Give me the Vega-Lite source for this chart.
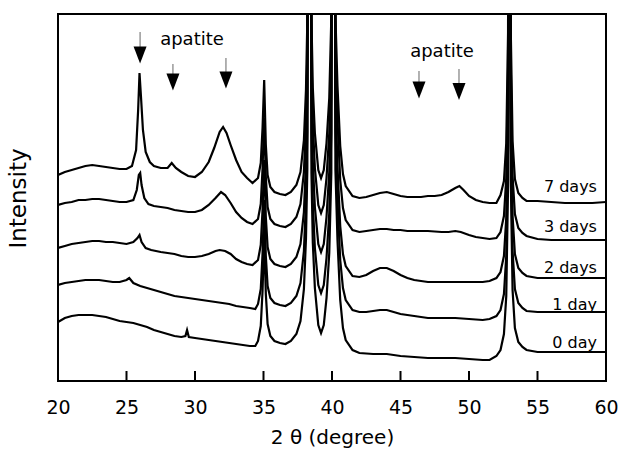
{
  "$schema": "https://vega.github.io/schema/vega-lite/v6.json",
  "width": 548,
  "height": 367,
  "autosize": {"type": "none"},
  "padding": {"left": 58, "top": 14, "right": 15, "bottom": 69},
  "background": "white",
  "config": {
    "view": {"stroke": "black", "strokeWidth": 2},
    "font": "DejaVu Sans"
  },
  "encoding": {
    "x": {
      "field": "x", "type": "quantitative",
      "scale": {"domain": [20, 60], "nice": false, "zero": false},
      "axis": {
        "values": [20, 25, 30, 35, 40, 45, 50, 55, 60],
        "domain": false, "grid": false, "ticks": false,
        "labelFont": "DejaVu Sans", "labelFontSize": 19, "labelColor": "black",
        "labelBaseline": "alphabetic", "labelPadding": 32, "labelFlush": false,
        "title": "2 θ  (degree)", "titleFont": "DejaVu Sans", "titleFontSize": 20,
        "titleFontWeight": "normal", "titleColor": "black",
        "titleBaseline": "alphabetic", "titleY": 62
      }
    },
    "y": {
      "field": "v", "type": "quantitative",
      "scale": {"domain": [0, 367], "nice": false, "zero": false},
      "axis": {
        "domain": false, "grid": false, "ticks": false, "labels": false,
        "title": "Intensity", "titleFont": "DejaVu Sans", "titleFontSize": 23,
        "titleFontWeight": "normal", "titleColor": "black",
        "titleX": -40, "titleY": 184, "titleAlign": "center", "titleBaseline": "middle", "titleAngle": -90
      }
    }
  },
  "layer": [
    {
      "data": {"values": [
        {"s":"7","x":20,"v":206},{"s":"7","x":20.5,"v":209},{"s":"7","x":21,"v":211},{"s":"7","x":21.5,"v":213},{"s":"7","x":22,"v":215},{"s":"7","x":22.5,"v":216},{"s":"7","x":23,"v":215},{"s":"7","x":23.5,"v":214},{"s":"7","x":24,"v":213},{"s":"7","x":24.5,"v":212},{"s":"7","x":25,"v":212},{"s":"7","x":25.4,"v":215},{"s":"7","x":25.7,"v":231},{"s":"7","x":25.85,"v":271},{"s":"7","x":25.95,"v":308},{"s":"7","x":26.05,"v":286},{"s":"7","x":26.2,"v":251},{"s":"7","x":26.4,"v":229},{"s":"7","x":26.7,"v":219},{"s":"7","x":27,"v":215},{"s":"7","x":27.5,"v":213},{"s":"7","x":28,"v":213},{"s":"7","x":28.3,"v":218},{"s":"7","x":28.6,"v":213},{"s":"7","x":29,"v":209},{"s":"7","x":29.5,"v":205},{"s":"7","x":30,"v":204},{"s":"7","x":30.5,"v":209},{"s":"7","x":31,"v":219},{"s":"7","x":31.4,"v":233},{"s":"7","x":31.8,"v":249},{"s":"7","x":32.05,"v":254},{"s":"7","x":32.3,"v":248},{"s":"7","x":32.6,"v":236},{"s":"7","x":33,"v":221},{"s":"7","x":33.4,"v":209},{"s":"7","x":33.8,"v":203},{"s":"7","x":34.2,"v":198},{"s":"7","x":34.6,"v":203},{"s":"7","x":34.8,"v":218},{"s":"7","x":34.93,"v":253},{"s":"7","x":35.05,"v":301},{"s":"7","x":35.17,"v":236},{"s":"7","x":35.3,"v":206},{"s":"7","x":35.5,"v":194},{"s":"7","x":35.8,"v":189},{"s":"7","x":36.2,"v":187},{"s":"7","x":36.6,"v":186},{"s":"7","x":37,"v":189},{"s":"7","x":37.4,"v":196},{"s":"7","x":37.7,"v":209},{"s":"7","x":37.95,"v":241},{"s":"7","x":38.1,"v":291},{"s":"7","x":38.2,"v":361},{"s":"7","x":38.35,"v":1200},{"s":"7","x":38.5,"v":363},{"s":"7","x":38.6,"v":293},{"s":"7","x":38.75,"v":248},{"s":"7","x":39,"v":211},{"s":"7","x":39.2,"v":203},{"s":"7","x":39.4,"v":211},{"s":"7","x":39.6,"v":238},{"s":"7","x":39.8,"v":283},{"s":"7","x":39.95,"v":363},{"s":"7","x":40.1,"v":1200},{"s":"7","x":40.25,"v":365},{"s":"7","x":40.4,"v":295},{"s":"7","x":40.6,"v":235},{"s":"7","x":40.8,"v":207},{"s":"7","x":41,"v":195},{"s":"7","x":41.5,"v":185},{"s":"7","x":42,"v":183},{"s":"7","x":42.5,"v":184},{"s":"7","x":43,"v":186},{"s":"7","x":43.5,"v":188},{"s":"7","x":44,"v":189},{"s":"7","x":44.5,"v":187},{"s":"7","x":45,"v":185},{"s":"7","x":45.5,"v":184},{"s":"7","x":46,"v":184},{"s":"7","x":46.5,"v":184},{"s":"7","x":47,"v":185},{"s":"7","x":47.5,"v":185},{"s":"7","x":48,"v":186},{"s":"7","x":48.5,"v":189},{"s":"7","x":49,"v":193},{"s":"7","x":49.3,"v":195},{"s":"7","x":49.6,"v":191},{"s":"7","x":50,"v":185},{"s":"7","x":50.5,"v":181},{"s":"7","x":51,"v":179},{"s":"7","x":51.5,"v":178},{"s":"7","x":52,"v":178},{"s":"7","x":52.3,"v":186},{"s":"7","x":52.55,"v":200},{"s":"7","x":52.72,"v":238},{"s":"7","x":52.85,"v":348},{"s":"7","x":52.95,"v":1200},{"s":"7","x":53.05,"v":350},{"s":"7","x":53.18,"v":240},{"s":"7","x":53.35,"v":202},{"s":"7","x":53.6,"v":188},{"s":"7","x":53.9,"v":183},{"s":"7","x":54.2,"v":180},{"s":"7","x":55,"v":180},{"s":"7","x":56,"v":179},{"s":"7","x":57,"v":178},{"s":"7","x":58,"v":178},{"s":"7","x":59,"v":178},{"s":"7","x":60,"v":179},

        {"s":"3","x":20,"v":176},{"s":"3","x":20.5,"v":178},{"s":"3","x":21,"v":179},{"s":"3","x":21.5,"v":181},{"s":"3","x":22,"v":181},{"s":"3","x":22.5,"v":182},{"s":"3","x":23,"v":182},{"s":"3","x":23.5,"v":181},{"s":"3","x":24,"v":180},{"s":"3","x":24.5,"v":179},{"s":"3","x":25,"v":179},{"s":"3","x":25.5,"v":181},{"s":"3","x":25.75,"v":191},{"s":"3","x":25.9,"v":206},{"s":"3","x":26,"v":208},{"s":"3","x":26.1,"v":196},{"s":"3","x":26.3,"v":183},{"s":"3","x":26.6,"v":177},{"s":"3","x":27,"v":175},{"s":"3","x":27.5,"v":174},{"s":"3","x":28,"v":173},{"s":"3","x":28.5,"v":171},{"s":"3","x":29,"v":170},{"s":"3","x":29.5,"v":169},{"s":"3","x":30,"v":169},{"s":"3","x":30.5,"v":171},{"s":"3","x":31,"v":176},{"s":"3","x":31.5,"v":183},{"s":"3","x":31.9,"v":189},{"s":"3","x":32.2,"v":186},{"s":"3","x":32.6,"v":178},{"s":"3","x":33,"v":169},{"s":"3","x":33.4,"v":163},{"s":"3","x":33.8,"v":159},{"s":"3","x":34.2,"v":157},{"s":"3","x":34.6,"v":162},{"s":"3","x":34.8,"v":177},{"s":"3","x":34.93,"v":212},{"s":"3","x":35.05,"v":263},{"s":"3","x":35.17,"v":204},{"s":"3","x":35.3,"v":174},{"s":"3","x":35.5,"v":162},{"s":"3","x":35.8,"v":157},{"s":"3","x":36.2,"v":155},{"s":"3","x":36.6,"v":154},{"s":"3","x":37,"v":157},{"s":"3","x":37.4,"v":164},{"s":"3","x":37.7,"v":177},{"s":"3","x":37.95,"v":209},{"s":"3","x":38.1,"v":259},{"s":"3","x":38.2,"v":329},{"s":"3","x":38.35,"v":1200},{"s":"3","x":38.5,"v":328},{"s":"3","x":38.6,"v":258},{"s":"3","x":38.75,"v":213},{"s":"3","x":39,"v":176},{"s":"3","x":39.2,"v":168},{"s":"3","x":39.4,"v":176},{"s":"3","x":39.6,"v":203},{"s":"3","x":39.8,"v":248},{"s":"3","x":39.95,"v":328},{"s":"3","x":40.1,"v":1200},{"s":"3","x":40.25,"v":331},{"s":"3","x":40.4,"v":261},{"s":"3","x":40.6,"v":201},{"s":"3","x":40.8,"v":173},{"s":"3","x":41,"v":161},{"s":"3","x":41.5,"v":151},{"s":"3","x":42,"v":149},{"s":"3","x":42.5,"v":150},{"s":"3","x":43,"v":151},{"s":"3","x":43.5,"v":152},{"s":"3","x":44,"v":152},{"s":"3","x":44.5,"v":151},{"s":"3","x":45,"v":151},{"s":"3","x":45.5,"v":150},{"s":"3","x":46,"v":150},{"s":"3","x":47,"v":150},{"s":"3","x":48,"v":149},{"s":"3","x":48.5,"v":149},{"s":"3","x":49,"v":150},{"s":"3","x":49.4,"v":149},{"s":"3","x":50,"v":146},{"s":"3","x":50.5,"v":144},{"s":"3","x":51,"v":143},{"s":"3","x":51.5,"v":142},{"s":"3","x":52,"v":143},{"s":"3","x":52.3,"v":149},{"s":"3","x":52.55,"v":165},{"s":"3","x":52.72,"v":203},{"s":"3","x":52.85,"v":313},{"s":"3","x":52.95,"v":1200},{"s":"3","x":53.05,"v":315},{"s":"3","x":53.18,"v":205},{"s":"3","x":53.35,"v":167},{"s":"3","x":53.6,"v":153},{"s":"3","x":53.9,"v":148},{"s":"3","x":54.2,"v":145},{"s":"3","x":55,"v":142},{"s":"3","x":56,"v":141},{"s":"3","x":57,"v":141},{"s":"3","x":58,"v":141},{"s":"3","x":59,"v":141},{"s":"3","x":60,"v":141},

        {"s":"2","x":20,"v":133},{"s":"2","x":20.5,"v":135},{"s":"2","x":21,"v":137},{"s":"2","x":21.5,"v":138},{"s":"2","x":22,"v":139},{"s":"2","x":22.5,"v":140},{"s":"2","x":23,"v":140},{"s":"2","x":23.5,"v":139},{"s":"2","x":24,"v":139},{"s":"2","x":24.5,"v":138},{"s":"2","x":25,"v":137},{"s":"2","x":25.5,"v":139},{"s":"2","x":25.8,"v":143},{"s":"2","x":25.95,"v":146},{"s":"2","x":26.1,"v":139},{"s":"2","x":26.4,"v":133},{"s":"2","x":26.8,"v":131},{"s":"2","x":27.5,"v":129},{"s":"2","x":28,"v":128},{"s":"2","x":28.5,"v":127},{"s":"2","x":29,"v":125},{"s":"2","x":29.5,"v":124},{"s":"2","x":30,"v":124},{"s":"2","x":30.5,"v":125},{"s":"2","x":31,"v":127},{"s":"2","x":31.5,"v":130},{"s":"2","x":31.8,"v":131},{"s":"2","x":32.2,"v":130},{"s":"2","x":32.6,"v":127},{"s":"2","x":33,"v":122},{"s":"2","x":33.4,"v":119},{"s":"2","x":33.8,"v":117},{"s":"2","x":34.2,"v":116},{"s":"2","x":34.6,"v":121},{"s":"2","x":34.8,"v":136},{"s":"2","x":34.93,"v":171},{"s":"2","x":35.05,"v":221},{"s":"2","x":35.17,"v":164},{"s":"2","x":35.3,"v":134},{"s":"2","x":35.5,"v":122},{"s":"2","x":35.8,"v":117},{"s":"2","x":36.2,"v":115},{"s":"2","x":36.6,"v":114},{"s":"2","x":37,"v":117},{"s":"2","x":37.4,"v":124},{"s":"2","x":37.7,"v":137},{"s":"2","x":37.95,"v":169},{"s":"2","x":38.1,"v":219},{"s":"2","x":38.2,"v":289},{"s":"2","x":38.35,"v":1200},{"s":"2","x":38.5,"v":289},{"s":"2","x":38.6,"v":219},{"s":"2","x":38.75,"v":174},{"s":"2","x":39,"v":137},{"s":"2","x":39.2,"v":129},{"s":"2","x":39.4,"v":137},{"s":"2","x":39.6,"v":164},{"s":"2","x":39.8,"v":209},{"s":"2","x":39.95,"v":289},{"s":"2","x":40.1,"v":1200},{"s":"2","x":40.25,"v":285},{"s":"2","x":40.4,"v":215},{"s":"2","x":40.6,"v":155},{"s":"2","x":40.8,"v":127},{"s":"2","x":41,"v":115},{"s":"2","x":41.5,"v":105},{"s":"2","x":42,"v":104},{"s":"2","x":42.5,"v":106},{"s":"2","x":43,"v":110},{"s":"2","x":43.5,"v":113},{"s":"2","x":44,"v":113},{"s":"2","x":44.5,"v":110},{"s":"2","x":45,"v":106},{"s":"2","x":45.5,"v":103},{"s":"2","x":46,"v":101},{"s":"2","x":46.5,"v":100},{"s":"2","x":47,"v":99},{"s":"2","x":48,"v":99},{"s":"2","x":49,"v":99},{"s":"2","x":50,"v":99},{"s":"2","x":51,"v":99},{"s":"2","x":51.5,"v":100},{"s":"2","x":52,"v":103},{"s":"2","x":52.3,"v":109},{"s":"2","x":52.55,"v":125},{"s":"2","x":52.72,"v":163},{"s":"2","x":52.85,"v":273},{"s":"2","x":52.95,"v":1200},{"s":"2","x":53.05,"v":275},{"s":"2","x":53.18,"v":165},{"s":"2","x":53.35,"v":127},{"s":"2","x":53.6,"v":113},{"s":"2","x":53.9,"v":108},{"s":"2","x":54.2,"v":105},{"s":"2","x":55,"v":103},{"s":"2","x":56,"v":103},{"s":"2","x":57,"v":103},{"s":"2","x":58,"v":103},{"s":"2","x":59,"v":103},{"s":"2","x":60,"v":103},

        {"s":"1","x":20,"v":96},{"s":"1","x":20.5,"v":98},{"s":"1","x":21,"v":99},{"s":"1","x":21.5,"v":100},{"s":"1","x":22,"v":101},{"s":"1","x":22.5,"v":101},{"s":"1","x":23,"v":101},{"s":"1","x":23.5,"v":100},{"s":"1","x":24,"v":99},{"s":"1","x":24.5,"v":99},{"s":"1","x":25,"v":101},{"s":"1","x":25.2,"v":103},{"s":"1","x":25.5,"v":98},{"s":"1","x":26,"v":95},{"s":"1","x":26.5,"v":93},{"s":"1","x":27,"v":91},{"s":"1","x":27.5,"v":89},{"s":"1","x":28,"v":87},{"s":"1","x":28.5,"v":85},{"s":"1","x":29,"v":84},{"s":"1","x":29.5,"v":83},{"s":"1","x":30,"v":82},{"s":"1","x":30.5,"v":81},{"s":"1","x":31,"v":80},{"s":"1","x":31.5,"v":79},{"s":"1","x":32,"v":78},{"s":"1","x":32.5,"v":77},{"s":"1","x":33,"v":75},{"s":"1","x":33.5,"v":74},{"s":"1","x":34,"v":73},{"s":"1","x":34.4,"v":72},{"s":"1","x":34.6,"v":77},{"s":"1","x":34.8,"v":92},{"s":"1","x":34.93,"v":127},{"s":"1","x":35.05,"v":181},{"s":"1","x":35.17,"v":125},{"s":"1","x":35.3,"v":95},{"s":"1","x":35.5,"v":83},{"s":"1","x":35.8,"v":78},{"s":"1","x":36.2,"v":76},{"s":"1","x":36.6,"v":75},{"s":"1","x":37,"v":78},{"s":"1","x":37.4,"v":85},{"s":"1","x":37.7,"v":98},{"s":"1","x":37.95,"v":130},{"s":"1","x":38.1,"v":180},{"s":"1","x":38.2,"v":250},{"s":"1","x":38.35,"v":1200},{"s":"1","x":38.5,"v":248},{"s":"1","x":38.6,"v":178},{"s":"1","x":38.75,"v":133},{"s":"1","x":39,"v":96},{"s":"1","x":39.2,"v":88},{"s":"1","x":39.4,"v":96},{"s":"1","x":39.6,"v":123},{"s":"1","x":39.8,"v":168},{"s":"1","x":39.95,"v":248},{"s":"1","x":40.1,"v":1200},{"s":"1","x":40.25,"v":251},{"s":"1","x":40.4,"v":181},{"s":"1","x":40.6,"v":121},{"s":"1","x":40.8,"v":93},{"s":"1","x":41,"v":81},{"s":"1","x":41.5,"v":71},{"s":"1","x":42,"v":69},{"s":"1","x":42.5,"v":69},{"s":"1","x":43,"v":70},{"s":"1","x":43.5,"v":71},{"s":"1","x":44,"v":71},{"s":"1","x":44.5,"v":69},{"s":"1","x":45,"v":67},{"s":"1","x":46,"v":65},{"s":"1","x":47,"v":63},{"s":"1","x":48,"v":63},{"s":"1","x":49,"v":63},{"s":"1","x":50,"v":62},{"s":"1","x":51,"v":61},{"s":"1","x":51.5,"v":62},{"s":"1","x":52,"v":65},{"s":"1","x":52.3,"v":71},{"s":"1","x":52.55,"v":87},{"s":"1","x":52.72,"v":125},{"s":"1","x":52.85,"v":235},{"s":"1","x":52.95,"v":1200},{"s":"1","x":53.05,"v":240},{"s":"1","x":53.18,"v":130},{"s":"1","x":53.35,"v":92},{"s":"1","x":53.6,"v":78},{"s":"1","x":53.9,"v":73},{"s":"1","x":54.2,"v":70},{"s":"1","x":55,"v":69},{"s":"1","x":56,"v":69},{"s":"1","x":57,"v":69},{"s":"1","x":58,"v":69},{"s":"1","x":59,"v":69},{"s":"1","x":60,"v":69},

        {"s":"0","x":20,"v":59},{"s":"0","x":20.5,"v":63},{"s":"0","x":21,"v":65},{"s":"0","x":21.5,"v":66},{"s":"0","x":22,"v":66},{"s":"0","x":22.5,"v":66},{"s":"0","x":23,"v":65},{"s":"0","x":23.5,"v":64},{"s":"0","x":24,"v":62},{"s":"0","x":24.5,"v":60},{"s":"0","x":25,"v":59},{"s":"0","x":25.5,"v":58},{"s":"0","x":26,"v":56},{"s":"0","x":26.5,"v":54},{"s":"0","x":27,"v":51},{"s":"0","x":27.5,"v":49},{"s":"0","x":28,"v":47},{"s":"0","x":28.5,"v":45},{"s":"0","x":29,"v":44},{"s":"0","x":29.3,"v":45},{"s":"0","x":29.42,"v":51},{"s":"0","x":29.55,"v":44},{"s":"0","x":30,"v":43},{"s":"0","x":30.5,"v":42},{"s":"0","x":31,"v":41},{"s":"0","x":31.5,"v":40},{"s":"0","x":32,"v":39},{"s":"0","x":32.5,"v":38},{"s":"0","x":33,"v":37},{"s":"0","x":33.5,"v":36},{"s":"0","x":34,"v":35},{"s":"0","x":34.4,"v":35},{"s":"0","x":34.6,"v":40},{"s":"0","x":34.8,"v":55},{"s":"0","x":34.93,"v":90},{"s":"0","x":35.05,"v":146},{"s":"0","x":35.17,"v":87},{"s":"0","x":35.3,"v":57},{"s":"0","x":35.5,"v":45},{"s":"0","x":35.8,"v":40},{"s":"0","x":36.2,"v":38},{"s":"0","x":36.6,"v":37},{"s":"0","x":37,"v":40},{"s":"0","x":37.4,"v":47},{"s":"0","x":37.7,"v":60},{"s":"0","x":37.95,"v":92},{"s":"0","x":38.1,"v":142},{"s":"0","x":38.2,"v":212},{"s":"0","x":38.35,"v":1200},{"s":"0","x":38.5,"v":208},{"s":"0","x":38.6,"v":138},{"s":"0","x":38.75,"v":93},{"s":"0","x":39,"v":56},{"s":"0","x":39.2,"v":48},{"s":"0","x":39.4,"v":56},{"s":"0","x":39.6,"v":83},{"s":"0","x":39.8,"v":128},{"s":"0","x":39.95,"v":208},{"s":"0","x":40.1,"v":1200},{"s":"0","x":40.25,"v":211},{"s":"0","x":40.4,"v":141},{"s":"0","x":40.6,"v":81},{"s":"0","x":40.8,"v":53},{"s":"0","x":41,"v":41},{"s":"0","x":41.5,"v":31},{"s":"0","x":42,"v":28},{"s":"0","x":43,"v":27},{"s":"0","x":44,"v":27},{"s":"0","x":45,"v":25},{"s":"0","x":46,"v":24},{"s":"0","x":47,"v":23},{"s":"0","x":48,"v":23},{"s":"0","x":49,"v":23},{"s":"0","x":50,"v":22},{"s":"0","x":51,"v":21},{"s":"0","x":51.5,"v":21},{"s":"0","x":52,"v":25},{"s":"0","x":52.3,"v":31},{"s":"0","x":52.55,"v":47},{"s":"0","x":52.72,"v":85},{"s":"0","x":52.85,"v":195},{"s":"0","x":52.95,"v":1200},{"s":"0","x":53.05,"v":201},{"s":"0","x":53.18,"v":91},{"s":"0","x":53.35,"v":53},{"s":"0","x":53.6,"v":39},{"s":"0","x":53.9,"v":34},{"s":"0","x":54.2,"v":31},{"s":"0","x":55,"v":29},{"s":"0","x":56,"v":29},{"s":"0","x":57,"v":29},{"s":"0","x":58,"v":29},{"s":"0","x":59,"v":29},{"s":"0","x":60,"v":29}
      ]},
      "mark": {"type": "line", "color": "black", "strokeWidth": 2.2, "clip": true, "interpolate": "linear"},
      "encoding": {"detail": {"field": "s", "type": "nominal"}, "order": {"field": "x", "type": "quantitative"}}
    },
    {
      "data": {"values": [
        {"x": 25.99, "v": 349, "v2": 330},
        {"x": 28.39, "v": 317, "v2": 303},
        {"x": 32.26, "v": 323, "v2": 305},
        {"x": 46.35, "v": 310, "v2": 295},
        {"x": 49.27, "v": 312, "v2": 293}
      ]},
      "mark": {"type": "rule", "color": "#666666", "strokeWidth": 1},
      "encoding": {"y2": {"field": "v2"}}
    },
    {
      "data": {"values": [
        {"x": 25.99, "v": 326},
        {"x": 28.39, "v": 299},
        {"x": 32.26, "v": 301},
        {"x": 46.35, "v": 291},
        {"x": 49.27, "v": 289.5}
      ]},
      "mark": {"type": "point", "shape": "M-0.65,-0.85L0.65,-0.85L0,0.85Z", "size": 400, "filled": true, "color": "black", "opacity": 1, "strokeWidth": 0}
    },
    {
      "data": {"values": [
        {"x": 29.78, "v": 341, "t": "apatite"},
        {"x": 48.03, "v": 329, "t": "apatite"}
      ]},
      "mark": {"type": "text", "font": "DejaVu Sans", "fontSize": 18, "color": "black", "align": "center", "baseline": "middle"},
      "encoding": {"text": {"field": "t"}}
    },
    {
      "data": {"values": [
        {"x": 59.34, "v": 194, "t": "7 days"},
        {"x": 59.34, "v": 154, "t": "3 days"},
        {"x": 59.34, "v": 113, "t": "2 days"},
        {"x": 59.34, "v": 76, "t": "1 day"},
        {"x": 59.34, "v": 38, "t": "0 day"}
      ]},
      "mark": {"type": "text", "font": "DejaVu Sans", "fontSize": 16, "color": "black", "align": "right", "baseline": "middle"},
      "encoding": {"text": {"field": "t"}}
    },
    {
      "data": {"values": [
        {"x": 25, "v": 0, "v2": 10}, {"x": 30, "v": 0, "v2": 10}, {"x": 35, "v": 0, "v2": 10},
        {"x": 40, "v": 0, "v2": 10}, {"x": 45, "v": 0, "v2": 10}, {"x": 50, "v": 0, "v2": 10},
        {"x": 55, "v": 0, "v2": 10}
      ]},
      "mark": {"type": "rule", "color": "black", "strokeWidth": 2, "opacity": 1},
      "encoding": {"y2": {"field": "v2"}}
    }
  ]
}
